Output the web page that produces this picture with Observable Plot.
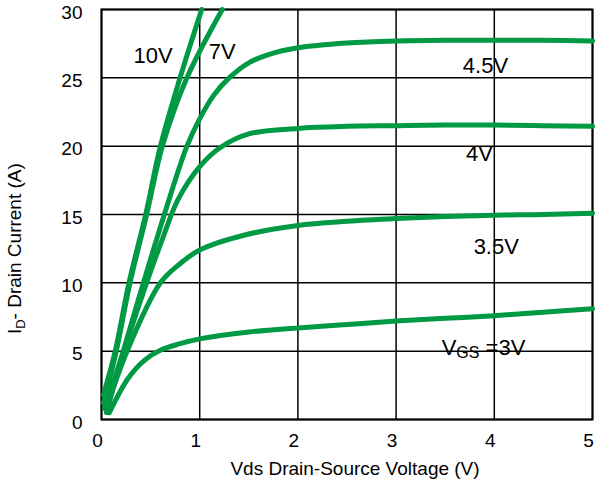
<!DOCTYPE html>
<html><head><meta charset="utf-8">
<script src="https://cdn.jsdelivr.net/npm/d3@7"></script>
<script src="https://cdn.jsdelivr.net/npm/@observablehq/plot@0.6"></script>
<style>body{margin:0;background:#fff;} svg{display:block;}</style>
</head><body><div id="chart"></div>
<script>
// Output characteristics: ID vs VDS for several VGS
const seriesNames = ["10V", "7V", "4.5V", "4V", "3.5V", "3V"];
const vds_10V = [0.02, 0.14, 0.28, 0.45, 0.60, 0.80, 1.02];
const id_10V  = [1.8, 5, 10, 15, 20, 25, 30];
const vds_7V  = [0.02, 0.15, 0.29, 0.46, 0.62, 0.87, 1.23];
const id_7V   = [1.2, 5, 10, 15, 20, 25, 30];
const vds_45V = [0.03, 0.20, 0.41, 0.64, 0.87, 1.0, 1.14, 1.3, 1.5, 1.7, 2.0, 2.5, 3, 3.5, 4, 4.5, 5];
const id_45V  = [0.8, 4.5, 9.6, 15, 20, 22.0, 23.7, 25, 26.1, 26.7, 27.2, 27.55, 27.7, 27.75, 27.75, 27.75, 27.7];
const vds_4V  = [0.05, 0.20, 0.44, 0.62, 0.78, 1.0, 1.21, 1.5, 2, 2.5, 3, 3.5, 4, 4.5, 5];
const id_4V   = [0.5, 4.3, 9.6, 13.2, 16.1, 18.5, 19.9, 20.9, 21.3, 21.45, 21.5, 21.55, 21.55, 21.5, 21.45];
const vds_35V = [0.05, 0.26, 0.60, 0.80, 1.0, 1.46, 2, 2.5, 3, 3.5, 4, 4.5, 5];
const id_35V  = [0.8, 5, 10, 11.4, 12.4, 13.5, 14.2, 14.5, 14.7, 14.85, 14.95, 15.0, 15.1];
const vds_3V  = [0.08, 0.27, 0.44, 0.61, 0.8, 1, 1.5, 2, 2.5, 3, 3.5, 4, 4.5, 5];
const id_3V   = [0.5, 3.0, 4.35, 5.1, 5.55, 5.9, 6.4, 6.7, 6.95, 7.2, 7.4, 7.6, 7.85, 8.1];

const xTicks = [0, 1, 2, 3, 4, 5];
const yTicks = [0, 5, 10, 15, 20, 25, 30];

const labelTexts = ["10V", "7V", "4.5V", "4V", "3.5V", "VGS =3V"];
const labelX = [0.525, 1.23, 3.91, 3.85, 4.02, 3.89];
const labelY = [26.6, 26.9, 25.86, 19.4, 12.6, 5.27];

const xLabel = "Vds Drain-Source Voltage (V)";
const yLabel = "ID- Drain Current (A)";

const seriesX = [vds_10V, vds_7V, vds_45V, vds_4V, vds_35V, vds_3V];
const seriesY = [id_10V, id_7V, id_45V, id_4V, id_35V, id_3V];
const rows = [];
seriesNames.forEach((name, k) => {
  seriesX[k].forEach((v, i) => rows.push({vgs: name, vds: v, id: seriesY[k][i]}));
});

const font = "'Liberation Sans', Arial, Helvetica, sans-serif";
const chart = Plot.plot({
  width: 595, height: 488,
  marginLeft: 101, marginRight: 3, marginTop: 9, marginBottom: 69,
  style: {fontFamily: font, fontSize: "19px", background: "white", color: "black"},
  x: {domain: [0, 5]},
  y: {domain: [0, 30]},
  marks: [
    Plot.ruleX(xTicks, {stroke: "black", strokeWidth: 1.5}),
    Plot.ruleY(yTicks, {stroke: "black", strokeWidth: 1.5}),
    Plot.frame({stroke: "black", strokeWidth: 2}),
    Plot.line(rows, {x: "vds", y: "id", z: "vgs", stroke: "#009944", strokeWidth: 5, curve: "catmull-rom"}),
    Plot.axisX({ticks: xTicks, tickFormat: d => String(d), tickSize: 0, tickPadding: 14, fontSize: 19, label: null, dx: -4}),
    Plot.axisY({ticks: yTicks, tickFormat: d => String(d), tickSize: 0, tickPadding: 19, fontSize: 19, label: null, dy: 3}),
    Plot.text(labelTexts, {x: (d, i) => labelX[i], y: (d, i) => labelY[i], text: d => d, fontSize: 22, textAnchor: "middle", fill: "black"}),
    Plot.text([xLabel], {frameAnchor: "bottom", dy: 55, dx: 8, fontSize: 19, fill: "black"}),
    Plot.text([yLabel], {x: [-0.886], y: [12.5], rotate: -90, fontSize: 19, fill: "black", clip: false})
  ]
});
document.getElementById("chart").appendChild(chart);

// subscripts
d3.select(chart).selectAll("text").each(function() {
  const t = this.textContent;
  const s = d3.select(this);
  if (t === yLabel) {
    s.text(null);
    s.append("tspan").text("I");
    s.append("tspan").attr("font-size", 13).attr("dy", 4).text("D");
    s.append("tspan").attr("dy", -4).text("- Drain Current (A)");
  } else if (t === "VGS =3V") {
    s.text(null);
    s.append("tspan").text("V");
    s.append("tspan").attr("font-size", 16).attr("dy", 3).text("GS");
    s.append("tspan").attr("dy", -3).text(" =3V");
  }
});
</script>
</body></html>
